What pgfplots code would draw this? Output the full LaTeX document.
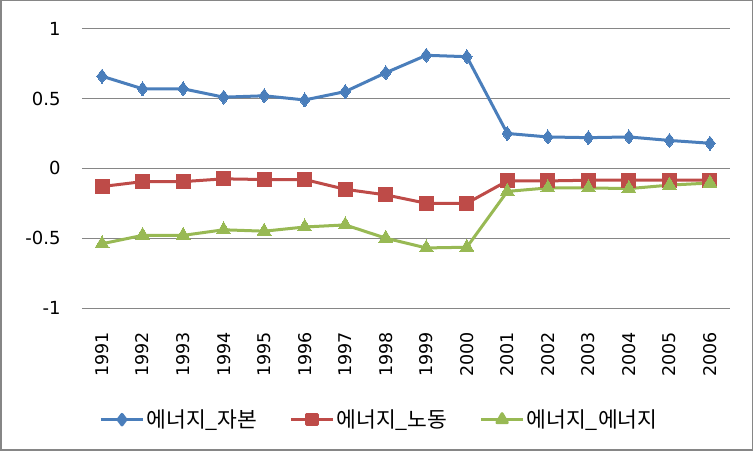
\documentclass[border=0pt]{standalone}
\usepackage{pgfplots}
\pgfplotsset{compat=1.18}
\usepackage{fontspec}
\setmainfont{DejaVu Sans}
\newfontfamily\kr{Noto Sans CJK KR}
\definecolor{cb}{HTML}{4A7EBB}
\definecolor{cr}{HTML}{BE4B48}
\definecolor{cg}{HTML}{98B954}
\definecolor{gridc}{HTML}{868686}
\begin{document}
\begin{tikzpicture}
\begin{axis}[
  scale only axis, width=648pt, height=279pt,
  xmin=-0.5, xmax=15.5, ymin=-1, ymax=1,
  ytick={-1,-0.5,0,0.5,1},
  yticklabels={-1,-0.5,0,0.5,1},
  xtick={0,...,15},
  xticklabels={1991,1992,1993,1994,1995,1996,1997,1998,1999,2000,2001,2002,2003,2004,2005,2006},
  ymajorgrids, major grid style={draw=gridc, line width=0.9pt},
  axis line style={draw=none}, tick style={draw=none},
  xticklabel style={font=\fontsize{17.5}{19}\selectfont, rotate=90, anchor=east, inner sep=0pt, xshift=-24pt},
  yticklabel style={font=\fontsize{18}{20}\selectfont, anchor=east, inner sep=0pt, xshift=-21pt},
  clip=false,
  legend columns=3,
  legend style={at={(rel axis cs:0.459,-0.40)}, anchor=center, draw=none, fill=none,
    font=\kr\fontsize{21.5}{23}\selectfont,
    /tikz/every even column/.append style={column sep=30pt}},
  legend cell align=left,
  legend image code/.code={\draw[mark repeat=2,mark phase=2,mark options={scale=0.75}] plot coordinates {(0pt,0pt)(21pt,0pt)(42pt,0pt)};},
  every axis plot/.append style={line width=3pt, line join=round},
]
\addplot[cb, mark=diamond*, mark size=7pt, mark options={line width=0pt}] coordinates {
(0,0.66)(1,0.57)(2,0.57)(3,0.51)(4,0.52)(5,0.49)(6,0.55)(7,0.685)(8,0.81)(9,0.80)(10,0.25)(11,0.225)(12,0.22)(13,0.225)(14,0.20)(15,0.18)};
\addlegendentry{에너지\_자본}
\addplot[cr, mark=square*, mark size=7pt, mark options={line width=0pt}] coordinates {
(0,-0.13)(1,-0.095)(2,-0.095)(3,-0.075)(4,-0.08)(5,-0.08)(6,-0.15)(7,-0.19)(8,-0.25)(9,-0.25)(10,-0.09)(11,-0.09)(12,-0.085)(13,-0.085)(14,-0.085)(15,-0.085)};
\addlegendentry{에너지\_노동}
\addplot[cg, mark=triangle*, mark size=8pt, mark options={line width=0pt}] coordinates {
(0,-0.54)(1,-0.48)(2,-0.48)(3,-0.44)(4,-0.45)(5,-0.42)(6,-0.405)(7,-0.50)(8,-0.57)(9,-0.565)(10,-0.165)(11,-0.14)(12,-0.14)(13,-0.145)(14,-0.12)(15,-0.105)};
\addlegendentry{에너지\_에너지}
\end{axis}
\draw[draw=gridc, line width=1.5pt] (-81pt,-142pt) rectangle (670pt,307pt);
\end{tikzpicture}
\end{document}
